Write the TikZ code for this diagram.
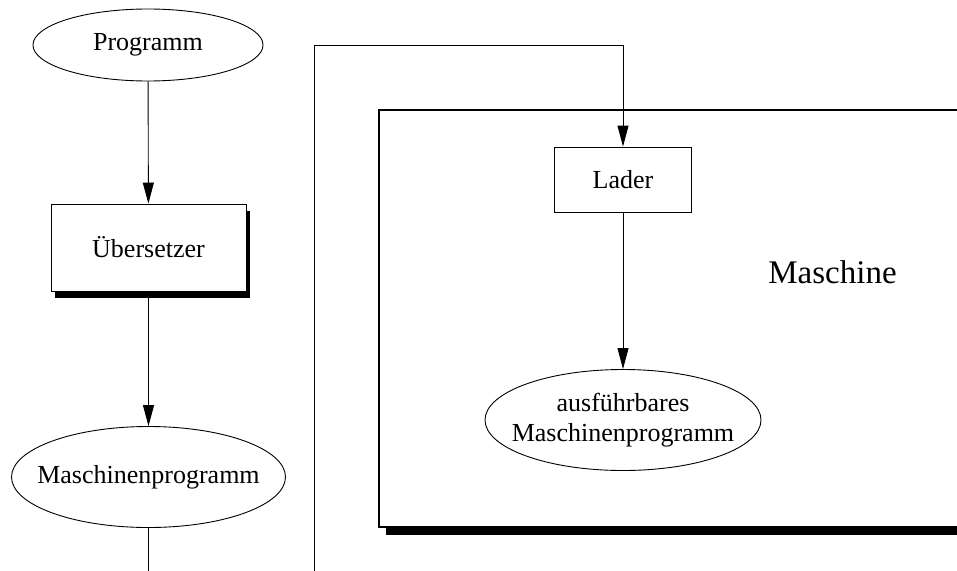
\documentclass[tikz,border=0pt]{standalone}
\usepackage{fontspec}
\setmainfont{Liberation Serif}
\usetikzlibrary{shapes.geometric,arrows.meta,shadows}
\begin{document}
\begin{tikzpicture}[x=1pt,y=-1pt,
  every node/.style={font=\fontsize{26}{29.5}\selectfont, inner sep=0pt},
  ell/.style={draw, line width=0.9pt, ellipse, inner sep=-60pt},
  box/.style={draw, line width=0.9pt, rectangle},
  shbox/.style={box, fill=white, drop shadow={opacity=1, fill=black, shadow xshift=4pt, shadow yshift=-7pt}},
  bigbox/.style={draw, line width=2pt, rectangle, fill=white, drop shadow={opacity=1, fill=black, shadow xshift=7pt, shadow yshift=-8pt}},
  conn/.style={line width=0.9pt},
  arr/.style={conn, -{Triangle[length=21pt,width=11pt]}}
]
\clip (0,0) rectangle (957,570);
\fill[white] (0,0) rectangle (957,570);

% container
\node[bigbox, minimum width=631pt, minimum height=417pt] (maschine) at (694.5,318.5) {};
\node[font=\fontsize{33}{36}\selectfont, anchor=base] (mlabel) at (832.5,283) {Maschine};

% left chain
\node[ell, minimum width=230pt, minimum height=72pt] (prog) at (148,45) {Programm};
\node[shbox, minimum width=195pt, minimum height=87pt] (ueb) at (148.5,247.5) {Übersetzer};
\node[ell, minimum width=274pt, minimum height=101pt] (mprog) at (148.5,477) {Maschinenprogramm};

% right chain
\node[box, minimum width=137pt, minimum height=65pt] (lader) at (623,179.5) {Lader};
\node[ell, minimum width=276pt, minimum height=101pt, align=center] (aprog) at (623,420) {ausführbares\\Maschinenprogramm};

\coordinate (mend) at (148.5,575);
\coordinate (lstart) at (314,575);
\coordinate (ltop) at (314,45);
\coordinate (rtop) at (623,45);

\draw[arr] (prog) -- (ueb);
\draw[arr] (ueb) -- (mprog);
\draw[conn] (mprog) -- (mend);
\draw[arr] (lstart) -- (ltop) -- (rtop) -- (lader.north);
\draw[arr] (lader) -- (aprog);
\end{tikzpicture}
\end{document}
